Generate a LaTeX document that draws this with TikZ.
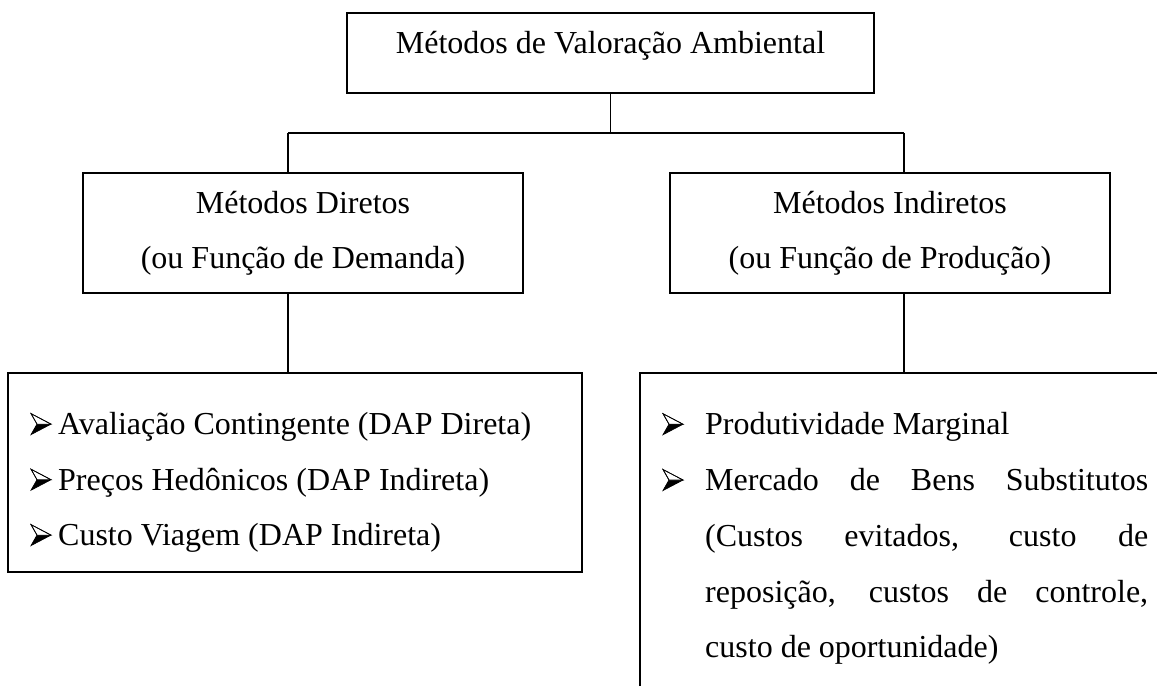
\documentclass[tikz,border=0pt]{standalone}
\usepackage{fontspec}
\setmainfont{Liberation Serif}
\usetikzlibrary{calc}
\tikzset{
  boxline/.style={draw=black, line width=1.6pt},
  box/.style={boxline, rectangle, inner sep=0pt},
  conn/.style={draw=black, line width=1.4pt},
  lbl/.style={inner sep=0pt, anchor=base, font=\fontsize{32}{38}\selectfont},
  lbw/.style={inner sep=0pt, anchor=base west, font=\fontsize{32}{38}\selectfont},
  arrowbullet/.pic={
    \fill[black] (6,-10.5) -- (20,-10.5) -- (0,0) -- cycle;
    \draw[black, line width=0.7pt, fill=white, line join=miter] (0,-21) -- (20,-10.5) -- (6,-10.5) -- cycle;
    \draw[black, line width=0.7pt, line join=miter] (0,-21) -- (20,-10.5) -- (0,0) -- (6,-10.5) -- cycle;
  },
}
\begin{document}
\begin{tikzpicture}[x=1pt,y=-1pt]
\useasboundingbox (0,0) rectangle (1157,686);
% boxes
\node[box, minimum width=527pt, minimum height=80pt] (top) at (610.5,53) {};
\node[lbl] (toplbl) at (610.5,53) {Métodos de Valoração Ambiental};
\node[box, minimum width=440pt, minimum height=120pt] (dir) at (303,233) {};
\node[lbl] (dir1) at (303,213) {Métodos Diretos};
\node[lbl] (dir2) at (303,268) {(ou Função de Demanda)};
\node[box, minimum width=440pt, minimum height=120pt] (ind) at (890,233) {};
\node[lbl] (ind1) at (890,213) {Métodos Indiretos};
\node[lbl] (ind2) at (890,268) {(ou Função de Produção)};
\node[box, minimum width=574pt, minimum height=199pt] (dl) at (295,472.5) {};
\pic (b1) at (31,434.6) {arrowbullet};
\node[lbw] (l1) at (58,434.6) {Avaliação Contingente (DAP Direta)};
\pic (b2) at (31,490.2) {arrowbullet};
\node[lbw] (l2) at (58,490.2) {Preços Hedônicos (DAP Indireta)};
\pic (b3) at (31,545.6) {arrowbullet};
\node[lbw] (l3) at (58,545.6) {Custo Viagem (DAP Indireta)};
% open bottom-right box (cut off by the picture's edges)
\coordinate (ir) at (640,373);
\draw[boxline] (640,686) -- (ir) -- (1157,373);
\pic (r1b) at (663,434.7) {arrowbullet};
\node[lbw] (r1) at (705,434.7) {Produtividade Marginal};
\pic (r2b) at (663,490.5) {arrowbullet};
\node[lbw] (r2) at (705,490.5) {\makebox[443pt][s]{Mercado de Bens Substitutos}};
\node[lbw] (r3) at (705,546.3) {\makebox[443pt][s]{(Custos evitados, custo de}};
\node[lbw] (r4) at (705,602.1) {\makebox[443pt][s]{reposição, custos de controle,}};
\node[lbw] (r5) at (705,657.9) {custo de oportunidade)};
% connectors
\coordinate (jl) at (288,133);
\coordinate (jr) at (904,133);
\draw[conn] (top.south) -- (top.south |- jl);
\draw[conn] (jl) -- (jr);
\draw[conn] (jl) -- (jl |- dir.north);
\draw[conn] (jr) -- (jr |- ind.north);
\draw[conn] (jl |- dir.south) -- (jl |- dl.north);
\draw[conn] (jr |- ind.south) -- (jr |- ir);
\end{tikzpicture}
\end{document}
